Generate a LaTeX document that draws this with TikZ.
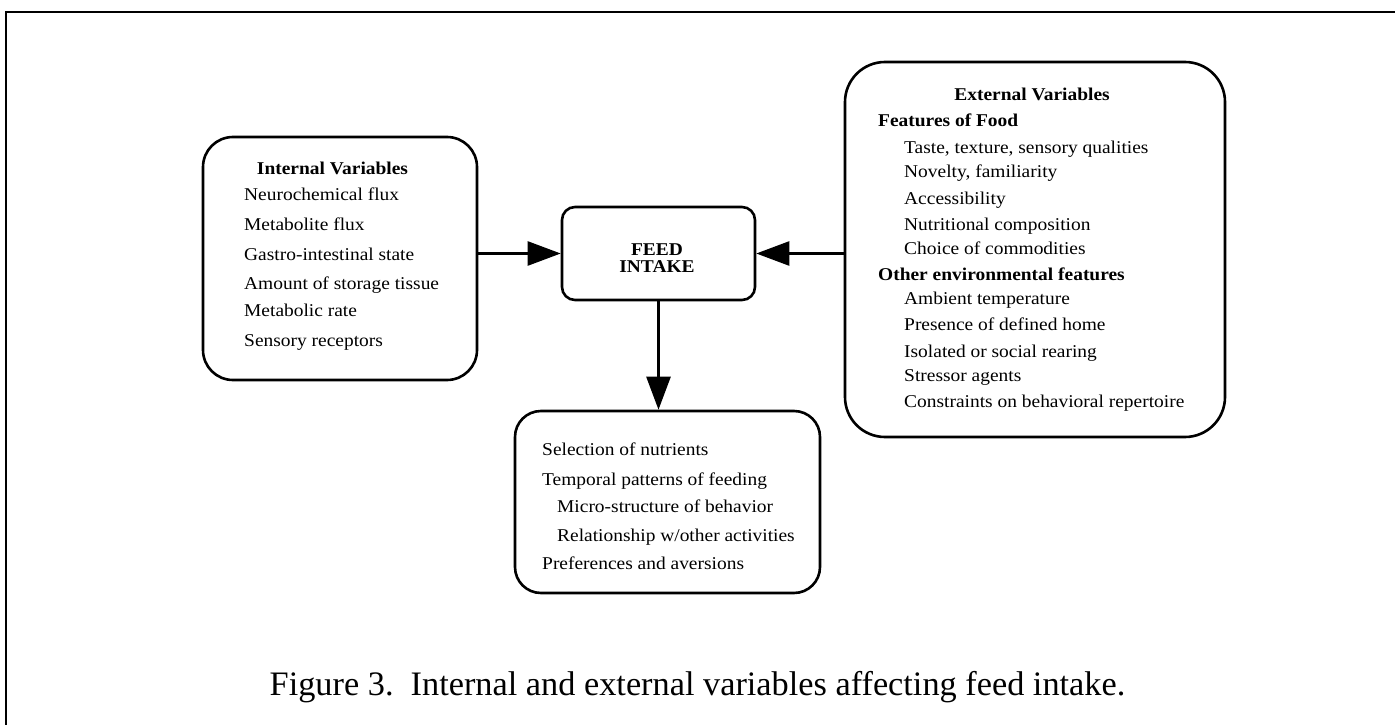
\documentclass[tikz,border=0pt]{standalone}
\usepackage{fontspec}
\setmainfont{Liberation Serif}
\newfontfamily\bxf{Liberation Serif}[FakeStretch=1.08]
\usetikzlibrary{arrows.meta}
\begin{document}
\begin{tikzpicture}[x=1pt,y=-1pt,
  box/.style={draw, line width=2.6pt, inner sep=0pt},
  txt/.style={anchor=mid west, inner sep=0pt, font=\bxf\fontsize{18}{20}\selectfont},
  ttl/.style={anchor=mid, inner sep=0pt, font=\bxf\bfseries\fontsize{18}{20}\selectfont},
  sub/.style={anchor=mid west, inner sep=0pt, font=\bxf\bfseries\fontsize{18}{20}\selectfont},
  arr/.style={line width=2.6pt, -{Triangle[length=33pt,width=24pt]}}]
\useasboundingbox (0,0) rectangle (1395,725);
\fill[white] (0,0) rectangle (1395,725);
% frame
\coordinate (fr0) at (6,725);
\coordinate (fr1) at (6,12);
\coordinate (fr2) at (1395,12);
\draw[line width=2.5pt] (fr0) -- (fr1) -- (fr2);
% boxes
\node[box, rounded corners=30pt, minimum width=274pt, minimum height=243pt] (int) at (340,258.5) {};
\node[box, rounded corners=13pt, minimum width=193pt, minimum height=93pt] (feed) at (658.5,253.5) {};
\node[box, rounded corners=40pt, minimum width=380pt, minimum height=375pt] (ext) at (1035,249.5) {};
\node[box, rounded corners=26pt, minimum width=305pt, minimum height=182pt] (bot) at (667.5,502) {};
% feed text
\node[inner sep=0pt, align=center, font=\bxf\bfseries\fontsize{18}{17}\selectfont] (feedtxt) at (657,258) {FEED\\INTAKE};
% internal texts
\node[ttl] (i0) at (332.5,172) {Internal Variables};
\node[txt] (i1) at (244,198) {Neurochemical flux};
\node[txt] (i2) at (244,228) {Metabolite flux};
\node[txt] (i3) at (244,258) {Gastro-intestinal state};
\node[txt] (i4) at (244,287) {Amount of storage tissue};
\node[txt] (i5) at (244,314) {Metabolic rate};
\node[txt] (i6) at (244,344) {Sensory receptors};
% external texts
\node[ttl] (e0) at (1032,98) {External Variables};
\node[sub] (e1) at (878,124) {Features of Food};
\node[txt] (e2) at (904,151) {Taste, texture, sensory qualities};
\node[txt] (e3) at (904,175) {Novelty, familiarity};
\node[txt] (e4) at (904,202) {Accessibility};
\node[txt] (e5) at (904,228) {Nutritional composition};
\node[txt] (e6) at (904,252) {Choice of commodities};
\node[sub] (e7) at (878,278) {Other environmental features};
\node[txt] (e8) at (904,302) {Ambient temperature};
\node[txt] (e9) at (904,328) {Presence of defined home};
\node[txt] (e10) at (904,355) {Isolated or social rearing};
\node[txt] (e11) at (904,379) {Stressor agents};
\node[txt] (e12) at (904,405) {Constraints on behavioral repertoire};
% bottom texts
\node[txt] (b1) at (542,453) {Selection of nutrients};
\node[txt] (b2) at (542,483) {Temporal patterns of feeding};
\node[txt] (b3) at (557,510) {Micro-structure of behavior};
\node[txt] (b4) at (557,539) {Relationship w/other activities};
\node[txt] (b5) at (542,567) {Preferences and aversions};
% arrows
\draw[arr] (int.east |- feed.west) -- (feed.west);
\draw[arr] (ext.west |- feed.east) -- (feed.east);
\draw[arr] (feed.south) -- (feed.south |- bot.north);
% caption
\node[anchor=base, inner sep=0pt, font=\fontsize{34.3}{37}\selectfont] (cap) at (697.5,695)
  {Figure 3.\ \ Internal and external variables affecting feed intake.};
\end{tikzpicture}
\end{document}
